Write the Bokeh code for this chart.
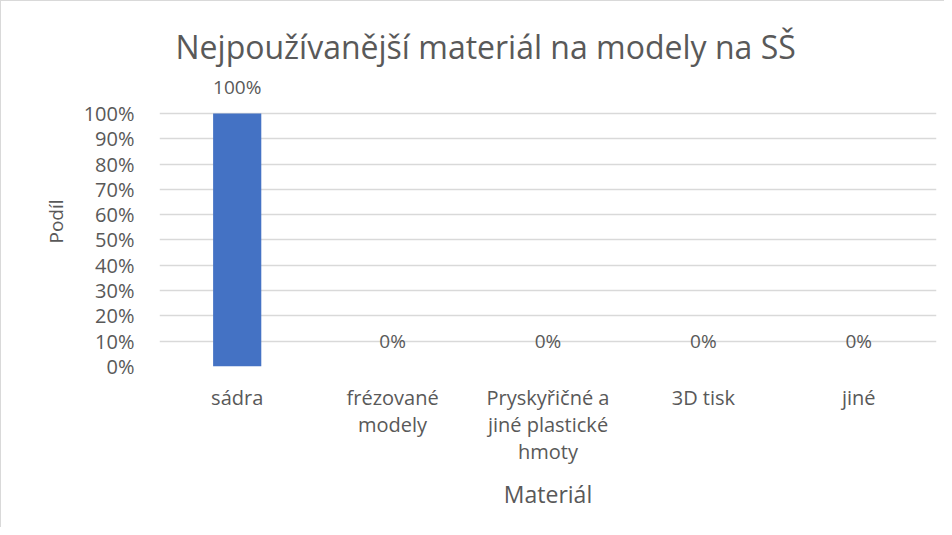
from bokeh.plotting import figure
from bokeh.models import ColumnDataSource, LabelSet, NumeralTickFormatter, FixedTicker, Title
from bokeh.core.properties import value
from bokeh.embed import file_html
from bokeh.resources import INLINE

categories = ["sádra", "frézované\nmodely", "Pryskyřičné a\njiné plastické\nhmoty", "3D tisk", "jiné"]
shares = [1.0, 0.0, 0.0, 0.0, 0.0]
y_ticks = [0.0, 0.1, 0.2, 0.3, 0.4, 0.5, 0.6, 0.7, 0.8, 0.9, 1.0]
title_text = "Nejpoužívanější materiál na modely na SŠ"
x_label = "Materiál"
y_label = "Podíl"

FONT = "Open Sans"
TXT = "#595959"

src = ColumnDataSource(dict(cat=categories, val=shares,
                            lab=[f"{v:.0%}" for v in shares]))

# headroom above 100% so that the data label of the top bar is not clipped
p = figure(x_range=categories, y_range=(0, 1.146), width=944, height=527,
           output_backend="svg", toolbar_location=None,
           min_border_left=158, min_border_right=9, min_border_top=75, min_border_bottom=162)
p.styles = {"border-left": "1px solid #d9d9d9", "border-top": "1px solid #d9d9d9"}

p.vbar(x="cat", top="val", width=0.31, source=src, fill_color="#4472c4", line_color=None)

labels = LabelSet(x="cat", y="val", text="lab", source=src, y_offset=19,
                  text_align="center", text_baseline="alphabetic",
                  text_font_size=value("19px"), text_color=value(TXT), text_font=value(FONT))
p.add_layout(labels)

t = Title(text=title_text, align="left", offset=16, text_font_size="32px",
          text_color=TXT, text_font=FONT, text_font_style="normal", standoff=17)
p.add_layout(t, "above")

p.outline_line_color = None
p.background_fill_color = "white"
p.border_fill_color = "white"
p.xgrid.grid_line_color = None
p.ygrid.grid_line_color = "#d9d9d9"
p.ygrid.grid_line_width = 1.5
p.yaxis.ticker = FixedTicker(ticks=y_ticks)
p.yaxis.formatter = NumeralTickFormatter(format="0%")

for ax in (p.xaxis[0], p.yaxis[0]):
    ax.axis_line_color = None
    ax.major_tick_line_color = None
    ax.minor_tick_line_color = None
    ax.major_label_text_font = FONT
    ax.major_label_text_color = TXT
    ax.axis_label_text_font = FONT
    ax.axis_label_text_color = TXT
    ax.axis_label_text_font_style = "normal"

p.yaxis.major_label_text_font_size = "20px"
p.xaxis.major_label_text_font_size = "20px"
p.xaxis.major_label_text_line_height = 1.0
p.yaxis.axis_label_text_font_size = "19px"
p.xaxis.axis_label_text_font_size = "23px"

p.yaxis.major_label_standoff = 19
p.yaxis.axis_label = y_label
p.yaxis.axis_label_standoff = 12
p.xaxis.axis_label = x_label
p.xaxis.major_label_standoff = 11
p.xaxis.axis_label_standoff = 10

open("out.html", "w").write(file_html(p, INLINE))
